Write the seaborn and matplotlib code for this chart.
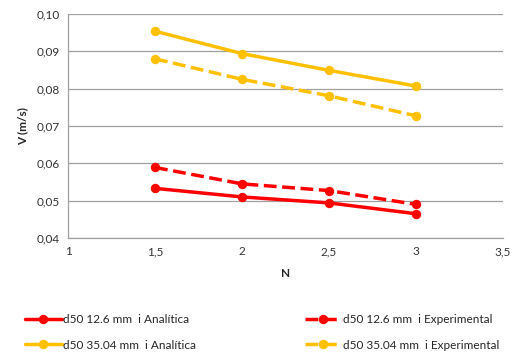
import matplotlib
matplotlib.use("Agg")
import matplotlib.pyplot as plt
import seaborn as sns
import pandas as pd

N = [1.5, 2, 2.5, 3]
red_analitica = [0.0533, 0.0510, 0.0494, 0.0465]
red_experimental = [0.0589, 0.0545, 0.0527, 0.0490]
yel_analitica = [0.0954, 0.0894, 0.0849, 0.0807]
yel_experimental = [0.0880, 0.0825, 0.0781, 0.0727]
labels = ["d50 12.6 mm  i Analítica", "d50 12.6 mm  i Experimental",
          "d50 35.04 mm  i Analítica", "d50 35.04 mm  i Experimental"]
xticks = [1, 1.5, 2, 2.5, 3, 3.5]
xticklabels = ["1", "1,5", "2", "2,5", "3", "3,5"]
yticks = [0.04, 0.05, 0.06, 0.07, 0.08, 0.09, 0.10]
yticklabels = ["0,04", "0,05", "0,06", "0,07", "0,08", "0,09", "0,10"]

sns.set_theme(style="white")
plt.rcParams['font.family'] = ['Lato', 'DejaVu Sans']

fig = plt.figure(figsize=(5.23, 3.55), dpi=100)
ax = fig.add_axes([68/523, 1 - 238/355, (503-68)/523, (238-14)/355])

RED = "#FF0000"
YEL = "#FFC000"
series = [
    (red_analitica, labels[0], RED, "-"),
    (red_experimental, labels[1], RED, "--"),
    (yel_analitica, labels[2], YEL, "-"),
    (yel_experimental, labels[3], YEL, "--"),
]
handles = {}
for vals, lab, col, ls in series:
    df = pd.DataFrame({"N": N, "V": vals})
    sns.lineplot(data=df, x="N", y="V", ax=ax, color=col, linestyle=ls,
                 linewidth=2.5, marker="o", markersize=6, markeredgecolor=col,
                 label=lab)
    handles[lab] = ax.lines[-1]
if ax.get_legend():
    ax.get_legend().remove()

ax.set_xlim(1, 3.5)
ax.set_ylim(0.04, 0.10)
ax.set_xticks(xticks)
ax.set_xticklabels(xticklabels, fontsize=8.5, color="#333333")
ax.set_yticks(yticks)
ax.set_yticklabels(yticklabels, fontsize=8.5, color="#333333")
ax.yaxis.grid(True, color="#A0A0A0", linewidth=0.9)
ax.xaxis.grid(False)
for s in ["top", "right"]:
    ax.spines[s].set_visible(False)
for s in ["left", "bottom"]:
    ax.spines[s].set_color("#A0A0A0")
    ax.spines[s].set_linewidth(0.9)
ax.tick_params(axis="both", length=0, pad=6)
ax.set_xlabel("N", fontsize=8.5, fontweight="bold", labelpad=8)
ax.set_ylabel("V (m/s)", fontsize=8.5, fontweight="bold", labelpad=6)

common = dict(loc="center left", frameon=False, fontsize=8.5,
              handlelength=3.1, handletextpad=0.1, labelspacing=1.2,
              borderaxespad=0, borderpad=0)
leg1 = fig.legend([handles[labels[0]], handles[labels[2]]], [labels[0], labels[2]],
                  bbox_to_anchor=(25/523, 1 - 332.5/355), **common)
leg2 = fig.legend([handles[labels[1]], handles[labels[3]]], [labels[1], labels[3]],
                  bbox_to_anchor=(305/523, 1 - 332.5/355), **common)

fig.savefig("out.png", dpi=100, facecolor="white")
